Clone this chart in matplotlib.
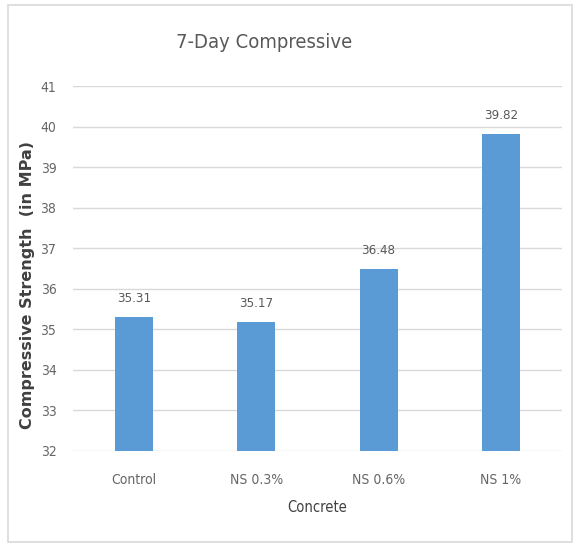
import matplotlib
matplotlib.use("Agg")
import matplotlib.pyplot as plt
from matplotlib.patches import Rectangle

categories = ["Control", "NS 0.3%", "NS 0.6%", "NS 1%"]
strength = [35.31, 35.17, 36.48, 39.82]
y_ticks = [32, 33, 34, 35, 36, 37, 38, 39, 40, 41]

plt.rcParams["font.family"] = ["DejaVu Sans"]
plt.rcParams["font.stretch"] = "condensed"

W, H = 574, 544
fig = plt.figure(figsize=(W / 100, H / 100), dpi=100)
fig.patch.set_facecolor("white")

# outer chart frame
fig.add_artist(Rectangle((8 / W, 2 / H), 564 / W, 537 / H, transform=fig.transFigure,
                         fill=False, edgecolor="#d9d9d9", linewidth=1.2))

ax = fig.add_axes([73 / W, 1 - 451 / H, (562 - 73) / W, (451 - 86) / H])
x = range(len(categories))
bars = ax.bar(x, strength, width=0.31, color="#5b9bd5", zorder=3)

ax.set_ylim(32, 41)
ax.set_xlim(-0.5, len(categories) - 0.5)
ax.set_yticks(y_ticks)
ax.set_yticklabels([str(t) for t in y_ticks])
ax.set_xticks(list(x))
ax.set_xticklabels(categories)
ax.grid(axis="y", color="#d9d9d9", linewidth=1, zorder=0)
for s in ax.spines.values():
    s.set_visible(False)
ax.tick_params(length=0, colors="#666666", labelsize=10)
ax.tick_params(axis="x", pad=16)
ax.tick_params(axis="y", pad=12)

for xi, v in zip(x, strength):
    ax.text(xi, v + 0.3, f"{v:.2f}", ha="center", va="bottom", fontsize=9.5, color="#595959")

fig.text(264 / W, 1 - 42 / H, "7-Day Compressive", ha="center", va="center",
         fontsize=14.5, color="#595959")
fig.text(317 / W, 1 - 508 / H, "Concrete", ha="center", va="center",
         fontsize=10.5, color="#404040")
fig.text(28 / W, 1 - 285 / H, "Compressive Strength  (in MPa)", ha="center", va="center",
         rotation=90, fontsize=11.5, fontweight="bold", fontstretch="normal",
         color="#404040")

fig.savefig("out.png", dpi=100, facecolor="white")
